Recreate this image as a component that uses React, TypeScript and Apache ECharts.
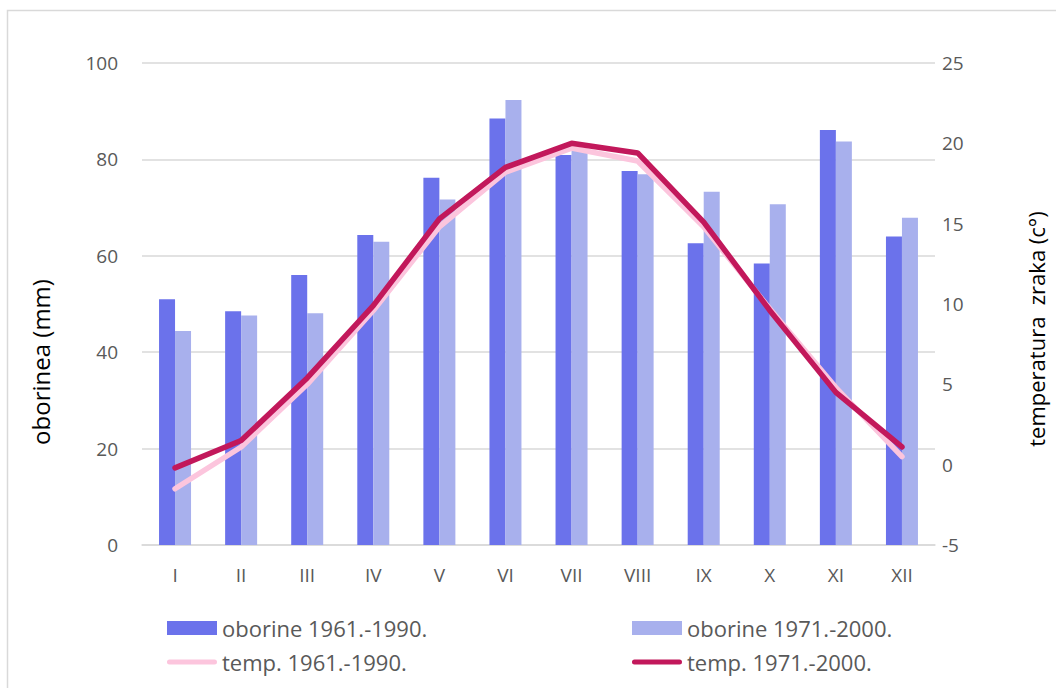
import React, { useEffect, useRef } from "react";
import * as echarts from "echarts";

const months = ["I", "II", "III", "IV", "V", "VI", "VII", "VIII", "IX", "X", "XI", "XII"];
const rain6190 = [51.0, 48.5, 56.0, 64.3, 76.2, 88.5, 80.9, 77.6, 62.6, 58.4, 86.1, 64.0];
const rain7100 = [44.4, 47.6, 48.1, 62.9, 71.7, 92.3, 82.2, 76.9, 73.3, 70.7, 83.7, 67.9];
const temp6190 = [-1.5, 1.1, 5.0, 9.6, 14.8, 18.2, 19.7, 18.9, 14.8, 9.7, 4.8, 0.5];
const temp7100 = [-0.2, 1.5, 5.4, 9.9, 15.3, 18.5, 20.0, 19.4, 15.1, 9.6, 4.5, 1.1];

const TXT = "#595959";
const FONT = "'Open Sans', 'Noto Sans', sans-serif";
const LINE_ICON = "path://M3,0 H57 A3,3 0 0 1 57,6 H3 A3,3 0 0 1 3,0 Z";

export default function App() {
  const ref = useRef<HTMLDivElement>(null);
  useEffect(() => {
    const chart = echarts.init(ref.current!, null, { renderer: "svg" });
    const legendBase = {
      orient: "vertical",
      top: 617,
      padding: 0,
      itemWidth: 50,
      itemHeight: 14,
      itemGap: 12,
      textStyle: { color: TXT, fontSize: 22, fontFamily: FONT },
    };
    chart.setOption({
      animation: false,
      textStyle: { fontFamily: FONT },
      grid: { left: 142, right: 121, top: 63, bottom: 143 },
      xAxis: {
        type: "category",
        data: months,
        axisLine: { lineStyle: { color: "#d9d9d9", width: 1.5 } },
        axisTick: { show: false },
        axisLabel: { color: TXT, fontSize: 19, margin: 20, fontFamily: FONT },
      },
      yAxis: [
        {
          type: "value",
          min: 0,
          max: 100,
          interval: 20,
          axisLine: { show: false },
          axisTick: { show: false },
          splitLine: { lineStyle: { color: "#d9d9d9", width: 1.5 } },
          axisLabel: { color: TXT, fontSize: 19, margin: 24, fontFamily: FONT },
        },
        {
          type: "value",
          min: -5,
          max: 25,
          interval: 5,
          axisLine: { show: false },
          axisTick: { show: false },
          splitLine: { show: false },
          axisLabel: { color: TXT, fontSize: 19, margin: 7, fontFamily: FONT },
        },
      ],
      legend: [
        {
          ...legendBase,
          left: 167,
          data: [
            { name: "oborine 1961.-1990.", icon: "rect" },
            { name: "temp. 1961.-1990.", icon: LINE_ICON },
          ],
        },
        {
          ...legendBase,
          left: 632,
          data: [
            { name: "oborine 1971.-2000.", icon: "rect" },
            { name: "temp. 1971.-2000.", icon: LINE_ICON },
          ],
        },
      ],
      graphic: [
        {
          type: "rect",
          shape: { x: 7.5, y: 10.5, width: 1060, height: 700 },
          style: { fill: "none", stroke: "#d9d9d9", lineWidth: 1.5 },
          silent: true,
        },
        {
          type: "text",
          x: 40,
          y: 362,
          rotation: Math.PI / 2,
          style: {
            text: "oborinea (mm)",
            fill: "#000",
            font: `24px ${FONT}`,
            align: "center",
            verticalAlign: "middle",
          },
        },
        {
          type: "text",
          x: 1036,
          y: 329,
          rotation: Math.PI / 2,
          style: {
            text: "temperatura  zraka (c°)",
            fill: "#000",
            font: `22px ${FONT}`,
            align: "center",
            verticalAlign: "middle",
          },
        },
      ],
      series: [
        {
          name: "oborine 1961.-1990.",
          type: "bar",
          data: rain6190,
          barWidth: 16,
          barGap: "0%",
          itemStyle: { color: "#6b72eb" },
        },
        {
          name: "oborine 1971.-2000.",
          type: "bar",
          data: rain7100,
          barWidth: 16,
          barGap: "0%",
          itemStyle: { color: "#a8b0ed" },
        },
        {
          name: "temp. 1961.-1990.",
          type: "line",
          yAxisIndex: 1,
          data: temp6190,
          symbol: "none",
          lineStyle: { color: "#fcc5dd", width: 5.5, cap: "round" },
          itemStyle: { color: "#fcc5dd" },
        },
        {
          name: "temp. 1971.-2000.",
          type: "line",
          yAxisIndex: 1,
          data: temp7100,
          symbol: "none",
          lineStyle: { color: "#c2185b", width: 5.5, cap: "round" },
          itemStyle: { color: "#c2185b" },
        },
      ],
    });
    return () => chart.dispose();
  }, []);
  return (
    <div
      ref={ref}
      style={{ position: "fixed", left: 0, top: 0, width: 1056, height: 688, background: "#fff" }}
    />
  );
}
